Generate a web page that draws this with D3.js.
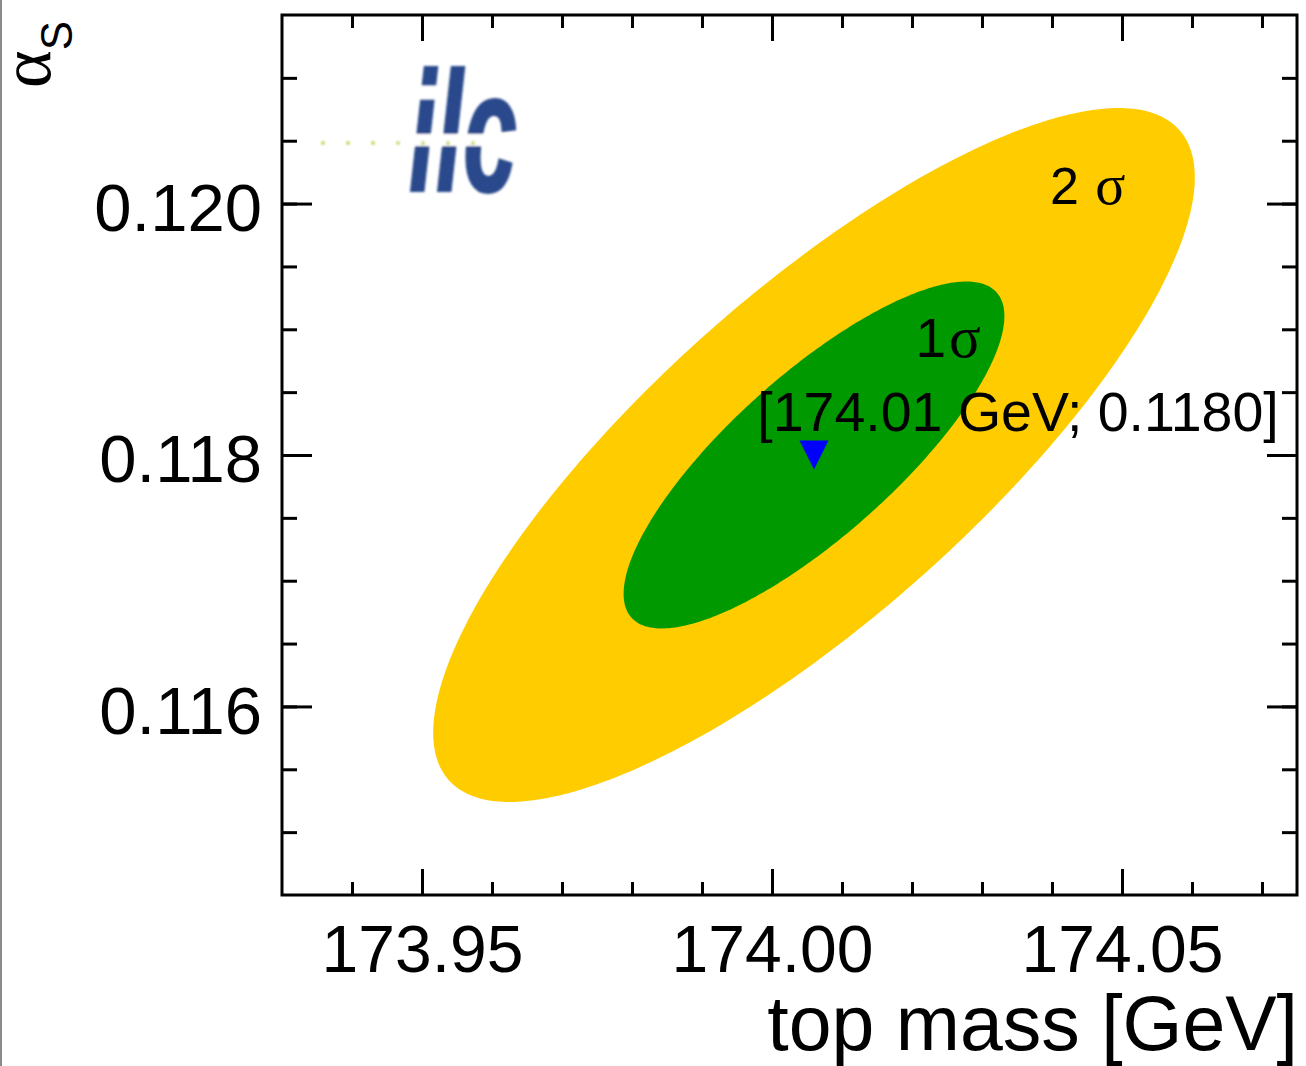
<!DOCTYPE html>
<html>
<head>
<meta charset="utf-8">
<script src="https://cdn.jsdelivr.net/npm/d3@7"></script>
<style>
  html, body { margin: 0; padding: 0; background: #fff; }
  svg { display: block; }
  text { font-family: "Liberation Sans", Arial, Helvetica, sans-serif; }
</style>
</head>
<body>
<svg id="chart" width="1306" height="1066"></svg>
<script>
// Fit result: best point in (top mass, alpha_s)
const bestFit = [174.006, 0.1180];
// Uncertainties and correlation of the fit
const sigmaMass = [0.0272];
const sigmaAlpha = [0.00138];
const correlation = [0.80];
// Contour levels (in units of sigma) and their fills, outermost first
const contourLevels = [2, 1];
const contourColors = ["#ffcc00", "#009900"];
// Axis ranges and ticks
const massDomain = [173.93, 174.075];
const alphaDomain = [0.1145, 0.1215];
const massMajorTicks = [173.95, 174.00, 174.05];
const massMinorTicks = [173.94, 173.95, 173.96, 173.97, 173.98, 173.99, 174.00, 174.01, 174.02, 174.03, 174.04, 174.05, 174.06, 174.07];
const alphaMajorTicks = [0.116, 0.118, 0.120];
const alphaMinorTicks = [0.1150, 0.1155, 0.1160, 0.1165, 0.1170, 0.1175, 0.1180, 0.1185, 0.1190, 0.1195, 0.1200, 0.1205, 0.1210];

const svg = d3.select("#chart");
const margin = { left: 282, top: 15, right: 9, bottom: 171 };
const W = 1306 - margin.left - margin.right;
const H = 1066 - margin.top - margin.bottom;

const defs = svg.append("defs");
defs.append("filter").attr("id", "soft").append("feGaussianBlur").attr("stdDeviation", 0.9);

// thin grey rule along the left border of the canvas
svg.append("rect").attr("x", 0).attr("y", 0).attr("width", 2).attr("height", 1066).attr("fill", "#8a8a8a");

const g = svg.append("g").attr("transform", `translate(${margin.left},${margin.top})`);

const x = d3.scaleLinear().domain(massDomain).range([0, W]);
const y = d3.scaleLinear().domain(alphaDomain).range([H, 0]);

// Confidence contours of a correlated 2D Gaussian
const tSteps = d3.range(0, 361, 1).map(d => d * Math.PI / 180);
const rho = correlation[0];
const line = d3.line().x(d => x(d[0])).y(d => y(d[1])).curve(d3.curveLinearClosed);
contourLevels.forEach((k, i) => {
  const pts = tSteps.map(t => [
    bestFit[0] + k * sigmaMass[0] * Math.cos(t),
    bestFit[1] + k * sigmaAlpha[0] * (rho * Math.cos(t) + Math.sqrt(1 - rho * rho) * Math.sin(t))
  ]);
  g.append("path").attr("d", line(pts)).attr("fill", contourColors[i]).attr("stroke", "none");
});

const serif = "'Liberation Serif', 'DejaVu Serif', serif";

// Contour labels
const lab2 = g.append("text").attr("x", x(174.0397)).attr("y", y(0.12000)).attr("font-size", 52).attr("fill", "#000");
lab2.append("tspan").text("2 ");
lab2.append("tspan").attr("dx", 2).attr("font-family", serif).attr("font-size", 56).text("σ");

const lab1 = g.append("text").attr("x", x(174.0205)).attr("y", y(0.11878)).attr("font-size", 55).attr("fill", "#000");
lab1.append("tspan").text("1");
lab1.append("tspan").attr("dx", 3).attr("font-family", serif).attr("font-size", 59).text("σ");

// Best-fit value annotation
const fmtM = d3.format(".2f"), fmtA = d3.format(".4f");
g.append("text").attr("x", x(173.9979)).attr("y", y(0.11819)).attr("font-size", 55.5).attr("fill", "#000")
  .text(`[${fmtM(bestFit[0])} GeV; ${fmtA(bestFit[1])}]`);

// Best-fit marker: downward triangle
const mx = x(bestFit[0]), my = y(bestFit[1]);
g.append("path")
  .attr("d", `M${mx - 14.5},${my - 14.5}L${mx + 14.5},${my - 14.5}L${mx},${my + 14.5}Z`)
  .attr("fill", "#0000ff");

// ilc logo
const logo = svg.append("g").attr("filter", "url(#soft)");
logo.append("text").attr("x", 409).attr("y", 191)
  .attr("font-size", 170).attr("font-weight", "bold").attr("font-style", "italic")
  .attr("textLength", 108).attr("lengthAdjust", "spacingAndGlyphs")
  .attr("stroke", "#2b4a8c").attr("stroke-width", 2)
  .attr("fill", "#2b4a8c").text("ilc");
logo.append("rect").attr("x", 395).attr("y", 134).attr("width", 130).attr("height", 12).attr("fill", "#fff");
logo.selectAll("circle.dot").data(d3.range(323, 480, 25)).join("circle")
  .attr("cx", d => d).attr("cy", 143).attr("r", 2.1).attr("fill", "#c2dc6a");

// Axes: major and minor ticks on all four sides, pointing inward
const tickStroke = sel => { sel.select(".domain").remove(); sel.selectAll("line").attr("stroke", "#000").attr("stroke-width", 3); };

g.append("g").attr("transform", `translate(0,${H})`)
  .call(d3.axisBottom(x).tickValues(massMinorTicks).tickSize(-13).tickFormat(""))
  .call(tickStroke);
const xMaj = g.append("g").attr("transform", `translate(0,${H})`)
  .call(d3.axisBottom(x).tickValues(massMajorTicks).tickSize(-26).tickPadding(30).tickFormat(d3.format(".2f")))
  .call(tickStroke);
xMaj.selectAll("text").attr("font-size", 66).attr("fill", "#000").attr("font-family", "'Liberation Sans', Arial, sans-serif");

g.append("g")
  .call(d3.axisTop(x).tickValues(massMinorTicks).tickSize(-13).tickFormat(""))
  .call(tickStroke);
g.append("g")
  .call(d3.axisTop(x).tickValues(massMajorTicks).tickSize(-26).tickFormat(""))
  .call(tickStroke);

g.append("g")
  .call(d3.axisLeft(y).tickValues(alphaMinorTicks).tickSize(-15).tickFormat(""))
  .call(tickStroke);
const yMaj = g.append("g")
  .call(d3.axisLeft(y).tickValues(alphaMajorTicks).tickSize(-30).tickPadding(20).tickFormat(d3.format(".3f")))
  .call(tickStroke);
yMaj.selectAll("text").attr("font-size", 67).attr("dy", "0.40em").attr("fill", "#000").attr("font-family", "'Liberation Sans', Arial, sans-serif");

g.append("g").attr("transform", `translate(${W},0)`)
  .call(d3.axisRight(y).tickValues(alphaMinorTicks).tickSize(-15).tickFormat(""))
  .call(tickStroke);
g.append("g").attr("transform", `translate(${W},0)`)
  .call(d3.axisRight(y).tickValues(alphaMajorTicks).tickSize(-30).tickFormat(""))
  .call(tickStroke);

// Frame
g.append("rect").attr("x", 0).attr("y", 0).attr("width", W).attr("height", H)
  .attr("fill", "none").attr("stroke", "#000").attr("stroke-width", 3);

// Axis titles
svg.append("text").attr("x", 1298).attr("y", 1050).attr("text-anchor", "end")
  .attr("font-size", 77).attr("fill", "#000").text("top mass [GeV]");

const yt = svg.append("text").attr("transform", "translate(50,88) rotate(-90)").attr("fill", "#000");
yt.append("tspan").attr("font-family", serif).attr("font-size", 72).text("α");
yt.append("tspan").attr("font-size", 44).attr("dy", 22).text("S");
</script>
</body>
</html>
